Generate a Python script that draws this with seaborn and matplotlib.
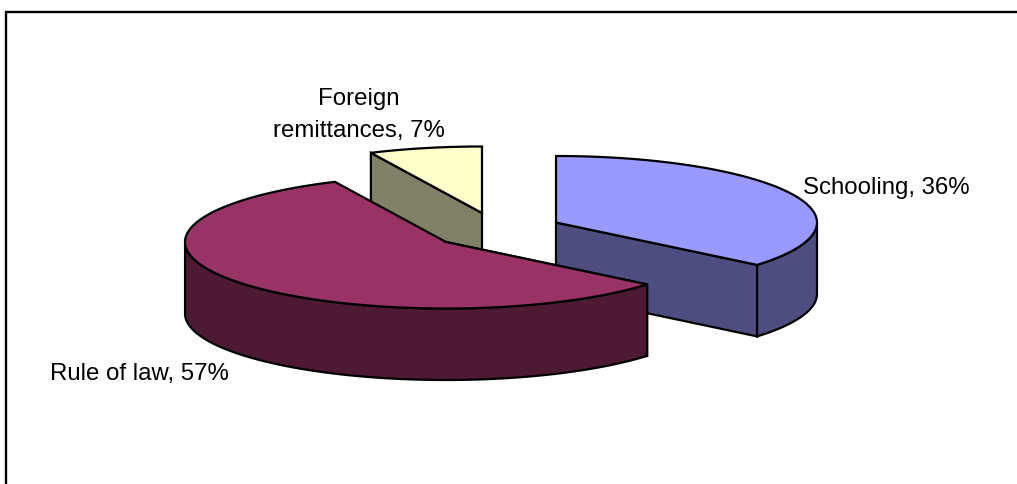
import numpy as np
import matplotlib
matplotlib.use("Agg")
import matplotlib.pyplot as plt
import seaborn as sns

categories = ["Schooling", "Rule of law", "Foreign\nremittances"]
shares = [36, 57, 7]
top_colors = ["#9999FF", "#993366", "#FFFFCC"]
side_colors = ["#4D4D80", "#4D1933", "#808066"]

sns.set_theme(style="white")
plt.rcParams["font.family"] = ["Liberation Sans", "DejaVu Sans"]

W, H = 1017, 485
RX, RY, DEPTH = 261, 66.5, 71.5
# apex of each exploded slice on the top surface
apex = {"Schooling": (556, 223.5), "Rule of law": (446, 243), "Foreign\nremittances": (482, 214)}
label_pos = {"Schooling": (803, 188.5, "left"), "Rule of law": (50, 374.5, "left"),
             "Foreign\nremittances": (359, 115, "center")}
EDGE = dict(edgecolor="black", linewidth=1.6, joinstyle="miter")

fig = plt.figure(figsize=(W / 100, H / 100), dpi=100)
ax = fig.add_axes([0, 0, 1, 1])
ax.set_xlim(0, W)
ax.set_ylim(H, 0)
ax.axis("off")

# frame, open to the right and bottom of the crop
ax.plot([6, 6, W + 5], [H + 5, 13, 13], color="black", lw=1.7, solid_joinstyle="miter", zorder=1)


def rim(cx, cy, a0, a1, n=160):
    # angles in degrees clockwise from 12 o'clock
    t = np.radians(np.linspace(a0, a1, n))
    return cx + RX * np.sin(t), cy - RY * np.cos(t), t


edges = np.cumsum([0] + shares) * 3.6
spans = dict(zip(categories, zip(edges[:-1], edges[1:])))
draw_order = ["Schooling", "Foreign\nremittances", "Rule of law"]

for z, name in enumerate(draw_order):
    i = categories.index(name)
    a0, a1 = spans[name]
    cx, cy = apex[name]
    x, y, t = rim(cx, cy, a0, a1)
    zb = 2 + z * 2
    # radial walls seen from the front
    for ang in (a0, a1):
        rx_, ry_, _ = rim(cx, cy, ang, ang, 1)
        if ry_[0] > cy or name == "Foreign\nremittances" and ang == a0:
            ax.fill([cx, rx_[0], rx_[0], cx], [cy, ry_[0], ry_[0] + DEPTH, cy + DEPTH],
                    facecolor=side_colors[i], zorder=zb, **EDGE)
    # outer wall where the rim faces the viewer
    front = np.cos(t) < 0
    if front.any():
        fx, fy = x[front], y[front]
        ax.fill(np.r_[fx, fx[::-1]], np.r_[fy, fy[::-1] + DEPTH],
                facecolor=side_colors[i], zorder=zb, **EDGE)
    # top surface
    ax.fill(np.r_[cx, x], np.r_[cy, y], facecolor=top_colors[i], zorder=zb + 1, **EDGE)

for name, share in zip(categories, shares):
    lx, ly, ha = label_pos[name]
    ax.text(lx, ly, f"{name}, {share}%", ha=ha, va="center", fontsize=17.3,
            color="black", linespacing=1.55, zorder=20, multialignment="center")

fig.savefig("out.png", dpi=100, facecolor="white")
